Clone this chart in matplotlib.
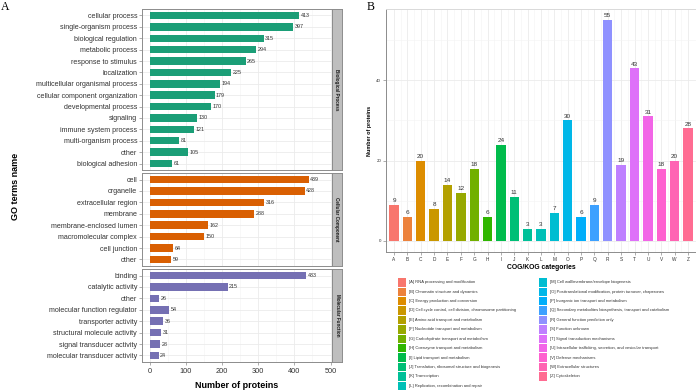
import numpy as np
import matplotlib
matplotlib.use("Agg")
import matplotlib.pyplot as plt
from matplotlib.patches import Rectangle

# ---------------- data ----------------
bp_terms = ["cellular process", "single-organism process", "biological regulation",
            "metabolic process", "response to stimulus", "localization",
            "multicellular organismal process", "cellular component organization",
            "developmental process", "signaling", "immune system process",
            "multi-organism process", "other", "biological adhesion"]
bp_counts = [413, 397, 315, 294, 265, 225, 194, 179, 170, 130, 121, 81, 105, 61]

cc_terms = ["cell", "organelle", "extracellular region", "membrane",
            "membrane-enclosed lumen", "macromolecular complex", "cell junction", "other"]
cc_counts = [439, 428, 316, 288, 162, 150, 64, 59]

mf_terms = ["binding", "catalytic activity", "other", "molecular function regulator",
            "transporter activity", "structural molecule activity",
            "signal transducer activity", "molecular transducer activity"]
mf_counts = [433, 215, 26, 54, 36, 31, 28, 24]

go_groups = ["Biological Process", "Cellular Component", "Molecular Function"]
go_colors = ["#1B9E77", "#D95F02", "#7570B3"]
go_xticks = [0, 100, 200, 300, 400, 500]

cog_codes = ["A", "B", "C", "D", "E", "F", "G", "H", "I", "J", "K", "L", "M",
             "O", "P", "Q", "R", "S", "T", "U", "V", "W", "Z"]
cog_counts = [9, 6, 20, 8, 14, 12, 18, 6, 24, 11, 3, 3, 7,
              30, 6, 9, 55, 19, 43, 31, 18, 20, 28]
cog_names = ["RNA processing and modification",
             "Chromatin structure and dynamics",
             "Energy production and conversion",
             "Cell cycle control, cell division, chromosome partitioning",
             "Amino acid transport and metabolism",
             "Nucleotide transport and metabolism",
             "Carbohydrate transport and metabolism",
             "Coenzyme transport and metabolism",
             "Lipid transport and metabolism",
             "Translation, ribosomal structure and biogenesis",
             "Transcription",
             "Replication, recombination and repair",
             "Cell wall/membrane/envelope biogenesis",
             "Posttranslational modification, protein turnover, chaperones",
             "Inorganic ion transport and metabolism",
             "Secondary metabolites biosynthesis, transport and catabolism",
             "General function prediction only",
             "Function unknown",
             "Signal transduction mechanisms",
             "Intracellular trafficking, secretion, and vesicular transport",
             "Defense mechanisms",
             "Extracellular structures",
             "Cytoskeleton"]
cog_yticks = [0, 20, 40]


# ggplot2 hue palette (HCL, l=65, c=100)
def hcl_hex(h, c=100.0, l=65.0):
    WY, Wu, Wv = 100.0, 0.1978398, 0.4683363
    hr = np.deg2rad(h)
    U, V = c * np.cos(hr), c * np.sin(hr)
    Y = WY * ((l + 16) / 116) ** 3 if l > 7.999592 else WY * l / 903.3
    u = U / (13 * l) + Wu
    v = V / (13 * l) + Wv
    X = 9.0 * Y * u / (4 * v)
    Z = -X / 3 - 5 * Y + 3 * Y / v

    def g(x):
        return 1.055 * x ** (1 / 2.4) - 0.055 if x > 0.00304 else 12.92 * x
    r = g((3.240479 * X - 1.537150 * Y - 0.498535 * Z) / WY)
    gg = g((-0.969256 * X + 1.875992 * Y + 0.041556 * Z) / WY)
    b = g((0.055648 * X - 0.204043 * Y + 1.057311 * Z) / WY)
    return tuple(float(min(1, max(0, x))) for x in (r, gg, b))


n_cog = len(cog_codes)
cog_colors = [hcl_hex(hh) for hh in np.linspace(15, 375, n_cog + 1)[:-1]]

# ---------------- figure ----------------
plt.rcParams["font.family"] = ["Liberation Sans", "DejaVu Sans"]
W, H = 696, 391
fig = plt.figure(figsize=(W / 100, H / 100), dpi=100)

GRID = "#EBEBEB"
BORDER = "#8C8C8C"
TXT = "#333333"


def px_axes(x0, y0, x1, y1):
    return fig.add_axes([x0 / W, 1 - y1 / H, (x1 - x0) / W, (y1 - y0) / H])


# ---- Panel A ----
panels = [(bp_terms, bp_counts, 9, 170), (cc_terms, cc_counts, 173, 266),
          (mf_terms, mf_counts, 269, 362)]
for i, (terms, counts, y0, y1) in enumerate(panels):
    ax = px_axes(142, y0, 332, y1)
    n = len(terms)
    ypos = np.arange(n)
    ax.barh(ypos, counts, height=0.65, color=go_colors[i], zorder=3)
    for yy, c in zip(ypos, counts):
        ax.text(c + 4, yy, str(c), va="center", ha="left", fontsize=3.9,
                color=TXT, zorder=4)
    ax.set_ylim(n - 1 + 0.57, -0.57)
    ax.set_xlim(-22, 504)
    ax.set_yticks(ypos)
    ax.set_yticklabels(terms, fontsize=5.1, color=TXT)
    ax.set_xticks(go_xticks)
    ax.set_xticks([50, 150, 250, 350, 450], minor=True)
    ax.grid(True, which="major", color=GRID, lw=0.6, zorder=0)
    ax.grid(True, which="minor", axis="x", color="#F4F4F4", lw=0.4, zorder=0)
    ax.tick_params(axis="y", length=2.5, width=0.5, color=BORDER, pad=1)
    ax.tick_params(axis="x", which="minor", length=0)
    if i < 2:
        ax.tick_params(axis="x", which="major", length=0, labelbottom=False)
    else:
        ax.tick_params(axis="x", which="major", length=2.5, width=0.5,
                       color=BORDER, labelsize=5.3, labelcolor=TXT, pad=1.5)
    for s in ax.spines.values():
        s.set_color(BORDER)
        s.set_linewidth(0.7)
    # strip
    sax = px_axes(332, y0, 342, y1)
    sax.set_xticks([])
    sax.set_yticks([])
    sax.set_facecolor("#BEBEBE")
    for s in sax.spines.values():
        s.set_color(BORDER)
        s.set_linewidth(0.7)
    sax.text(0.5, 0.5, go_groups[i], rotation=-90, ha="center", va="center",
             fontsize=3.3, color="#1A1A1A", fontweight="bold",
             transform=sax.transAxes)

fig.text(15 / W, 1 - 186 / H, "GO terms name", rotation=90, ha="center",
         va="center", fontsize=6.5, fontweight="bold")
fig.text(237 / W, 1 - 385 / H, "Number of proteins", ha="center", va="center",
         fontsize=6.5, fontweight="bold")
fig.text(5.5 / W, 1 - 7.5 / H, "A", ha="center", va="center", fontsize=8.5,
         family=["Liberation Serif", "DejaVu Serif"])
fig.text(371 / W, 1 - 7.5 / H, "B", ha="center", va="center", fontsize=8.5,
         family=["Liberation Serif", "DejaVu Serif"])

# ---- Panel B ----
bx = px_axes(386, 9, 696, 252)
xpos = np.arange(n_cog)
bx.bar(xpos, cog_counts, width=0.7, color=cog_colors, zorder=3)
for xx, c in zip(xpos, cog_counts):
    bx.text(xx, c + 0.4, str(c), ha="center", va="bottom", fontsize=4.6,
            color=TXT, zorder=4)
bx.set_xlim(-0.6, n_cog - 1 + 0.6)
bx.set_ylim(-2.75, 57.75)
bx.set_xticks(xpos)
bx.set_xticklabels(cog_codes, fontsize=3.4, color=TXT)
bx.set_xticks(xpos[:-1] + 0.5, minor=True)
bx.set_yticks(cog_yticks)
bx.set_yticklabels([str(v) for v in cog_yticks], fontsize=3.2, color=TXT)
bx.set_yticks([10, 30, 50], minor=True)
bx.grid(True, which="major", color=GRID, lw=0.6, zorder=0)
bx.grid(True, which="minor", color="#F4F4F4", lw=0.4, zorder=0)
bx.tick_params(which="major", length=2.5, width=0.5, color=BORDER, pad=1)
bx.tick_params(which="minor", length=0)
for s in ("top", "right"):
    bx.spines[s].set_color("#D9D9D9")
    bx.spines[s].set_linewidth(0.7)
for s in ("left", "bottom"):
    bx.spines[s].set_color(BORDER)
    bx.spines[s].set_linewidth(0.7)
bx.set_ylabel("Number of proteins", fontsize=3.9, fontweight="bold", labelpad=3)
bx.set_xlabel("COG/KOG categories", fontsize=4.9, fontweight="bold", labelpad=1.5)

# ---- Legend for panel B ----
lax = fig.add_axes([0, 0, 1, 1])
lax.set_xlim(0, W)
lax.set_ylim(H, 0)
lax.axis("off")
n_left = 12
for k, (code, name, col) in enumerate(zip(cog_codes, cog_names, cog_colors)):
    if k < n_left:
        x0, row = 397.5, k
    else:
        x0, row = 538.5, k - n_left
    yc = 282.3 + row * 9.4
    lax.add_patch(Rectangle((x0, yc - 4.2), 8.4, 8.4, facecolor=col,
                            edgecolor="none"))
    lax.text(x0 + 11.5, yc, f"[{code}] {name}", ha="left", va="center",
             fontsize=2.95, color=TXT)

fig.savefig("out.png", dpi=100)
